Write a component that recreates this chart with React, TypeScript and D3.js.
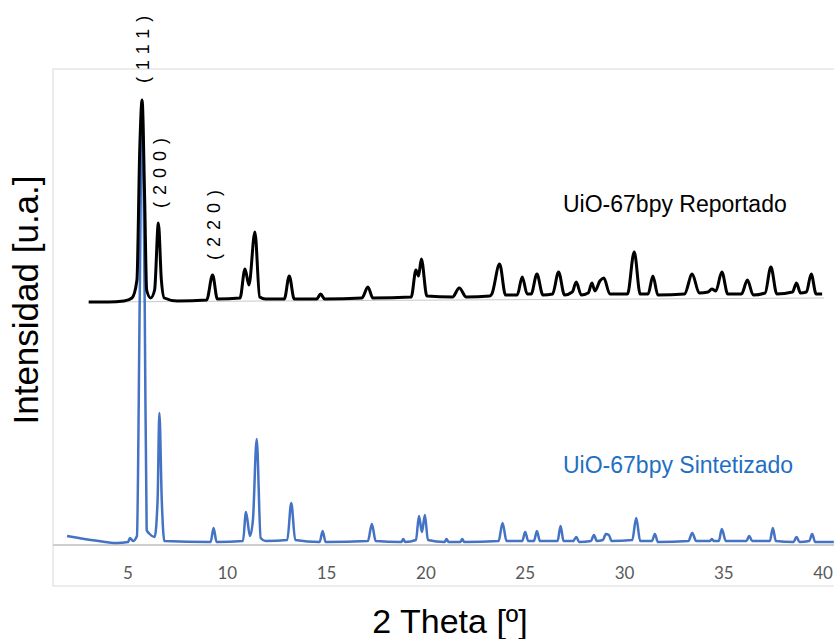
import React from "react";
import * as d3 from "d3";

// 2θ positions and intensities (arbitrary units)
const sintTheta = [
  1.93, 2.53, 3.52, 4.41, 5.0, 5.1, 5.25, 5.45, 5.59, 5.71, 5.84, 5.94, 6.09, 6.34, 6.49, 6.58, 6.7, 6.83,
  9.16, 9.31, 9.46, 10.79, 10.94, 11.14, 11.29, 11.48, 11.68, 11.93, 13.02, 13.22, 13.42, 14.65, 14.8, 14.95,
  17.08, 17.28, 17.47, 18.76, 18.86, 18.96, 19.5, 19.65, 19.8, 19.95, 20.1, 20.94, 21.04, 21.14, 21.73, 21.83, 21.93,
  23.66, 23.86, 24.06, 24.85, 25.0, 25.15, 25.44, 25.59, 25.74, 26.63, 26.78, 26.93, 27.42, 27.57, 27.72,
  28.31, 28.46, 28.61, 28.91, 29.06, 29.21, 29.35, 30.39, 30.59, 30.79, 31.38, 31.53, 31.68, 33.22, 33.41, 33.61,
  34.3, 34.4, 34.5, 34.75, 34.9, 35.1, 36.14, 36.28, 36.43, 37.32, 37.47, 37.62, 38.51, 38.66, 38.81,
  39.3, 39.45, 39.6, 40.54,
];
const sintIntensity = [
  9, 7, 4, 2, 3, 7, 4, 9, 245, 445, 245, 15, 11, 8, 45, 132, 45, 4,
  3, 17, 3, 4, 33, 9, 25, 106, 7, 4, 5, 42, 5, 3, 14, 3,
  4, 21, 4, 3, 6, 3, 5, 29, 13, 30, 5, 3, 6, 3, 3, 6, 3,
  4, 22, 4, 4, 13, 4, 4, 14, 4, 4, 19, 4, 4, 8, 3,
  4, 10, 4, 5, 11, 10, 4, 5, 27, 4, 4, 11, 3, 4, 12, 4,
  4, 6, 4, 4, 16, 4, 4, 9, 4, 4, 17, 4, 3, 8, 3,
  4, 11, 3, 3,
];

const repTheta = [
  3.02, 4.01, 4.8, 5.2, 5.45, 5.59, 5.71, 5.84, 5.94, 6.14, 6.34, 6.53, 6.68, 6.83, 7.48, 8.96, 9.26, 9.5,
  10.64, 10.89, 11.09, 11.39, 11.63, 11.93, 12.87, 13.12, 13.37, 14.5, 14.7, 14.9, 16.78, 17.08, 17.33,
  19.26, 19.5, 19.63, 19.77, 20.05, 21.34, 21.68, 22.03, 23.22, 23.32, 23.71, 24.01, 24.6, 24.85, 25.1,
  25.3, 25.59, 25.89, 26.38, 26.68, 26.98, 27.37, 27.57, 27.82, 28.17, 28.36, 28.51, 28.76, 28.96, 29.26,
  30.15, 30.49, 30.79, 31.19, 31.43, 31.68, 33.02, 33.41, 33.76, 34.21, 34.4, 34.6, 34.9, 35.2,
  35.89, 36.19, 36.48, 37.08, 37.37, 37.67, 38.46, 38.66, 38.86, 39.16, 39.4, 39.65, 39.95,
];
const repIntensity = [
  0, 0, 1, 4, 22, 152, 202, 102, 12, 4, 12, 79, 22, 4, 1, 2, 27, 3,
  4, 33, 17, 70, 5, 3, 3, 26, 3, 3, 8, 3, 4, 15, 4,
  5, 32, 26, 43, 6, 5, 14, 5, 6, 8, 38, 7, 7, 25, 8,
  8, 28, 7, 8, 30, 7, 10, 20, 7, 9, 19, 11, 21, 24, 8,
  8, 50, 8, 8, 26, 7, 8, 28, 9, 10, 13, 11, 30, 8,
  8, 22, 7, 9, 35, 8, 10, 19, 9, 10, 28, 8, 8,
];
const repOffset = 243;

// thin reference baseline under the reported pattern
const refTheta = [3.02, 40.05];
const refIntensity = [0, 4];

const xTicks = [5, 10, 15, 20, 25, 30, 35, 40];

const peakLabels = [
  { label: "(111)", theta: 5.71, intensity: 202, gap: 17 },
  { label: "(200)", theta: 6.58, intensity: 79, gap: 15 },
  { label: "(220)", theta: 9.26, intensity: 27, gap: 15 },
];

const W = 834;
const H = 639;

export default function App() {
  const x = d3.scaleLinear().domain([0, 40]).range([28.7, 823.1]);
  const y = d3.scaleLinear().domain([0, 445]).range([545, 100]);

  const line = d3
    .line<[number, number]>()
    .x((d) => x(d[0]))
    .y((d) => y(d[1]))
    .curve(d3.curveMonotoneX);

  const sint = sintTheta.map((t, i) => [t, sintIntensity[i]] as [number, number]);
  const rep = repTheta.map((t, i) => [t, repIntensity[i] + repOffset] as [number, number]);
  const ref = refTheta.map((t, i) => [t, refIntensity[i] + repOffset] as [number, number]);

  return (
    <svg
      width={W}
      height={H}
      style={{ position: "absolute", left: 0, top: 0, background: "#fff" }}
    >
      <rect x={53} y={69} width={W} height={517} fill="none" stroke="#d9d9d9" strokeWidth={1} />
      <line x1={53} x2={W} y1={y(0)} y2={y(0)} stroke="#bfbfbf" strokeWidth={1.5} />

      {xTicks.map((t) => (
        <text
          key={t}
          x={x(t)}
          y={579}
          textAnchor="middle"
          fontFamily="Lato, 'Open Sans', sans-serif"
          fontSize={17}
          fill="#595959"
        >
          {t}
        </text>
      ))}

      <path d={line(ref) ?? ""} fill="none" stroke="#c8c8c8" strokeWidth={1} />
      <path d={line(sint) ?? ""} fill="none" stroke="#4472c4" strokeWidth={2.5} strokeLinejoin="round" />
      <path d={line(rep) ?? ""} fill="none" stroke="#000" strokeWidth={3} strokeLinejoin="round" />

      {peakLabels.map((p) => {
        const px = x(p.theta);
        const py = y(p.intensity + repOffset) - p.gap;
        return (
          <text
            key={p.label}
            transform={`translate(${px + 7},${py}) rotate(-90)`}
            fontFamily="'Liberation Sans', Arial, sans-serif"
            fontSize={18}
            letterSpacing={7}
            fill="#000"
          >
            {p.label}
          </text>
        );
      })}

      <text
        x={563}
        y={212}
        fontFamily="'Liberation Sans', Arial, sans-serif"
        fontSize={23}
        fill="#000"
      >
        UiO-67bpy Reportado
      </text>
      <text
        x={563}
        y={473}
        fontFamily="'Liberation Sans', Arial, sans-serif"
        fontSize={23}
        fill="#1f6fc5"
      >
        UiO-67bpy Sintetizado
      </text>

      <text
        x={450}
        y={633}
        textAnchor="middle"
        fontFamily="'Liberation Sans', Arial, sans-serif"
        fontSize={34}
        fill="#000"
      >
        2 Theta [º]
      </text>
      <text
        transform="translate(38,300) rotate(-90)"
        textAnchor="middle"
        fontFamily="'Liberation Sans', Arial, sans-serif"
        fontSize={35}
        fill="#000"
      >
        Intensidad [u.a.]
      </text>
    </svg>
  );
}
